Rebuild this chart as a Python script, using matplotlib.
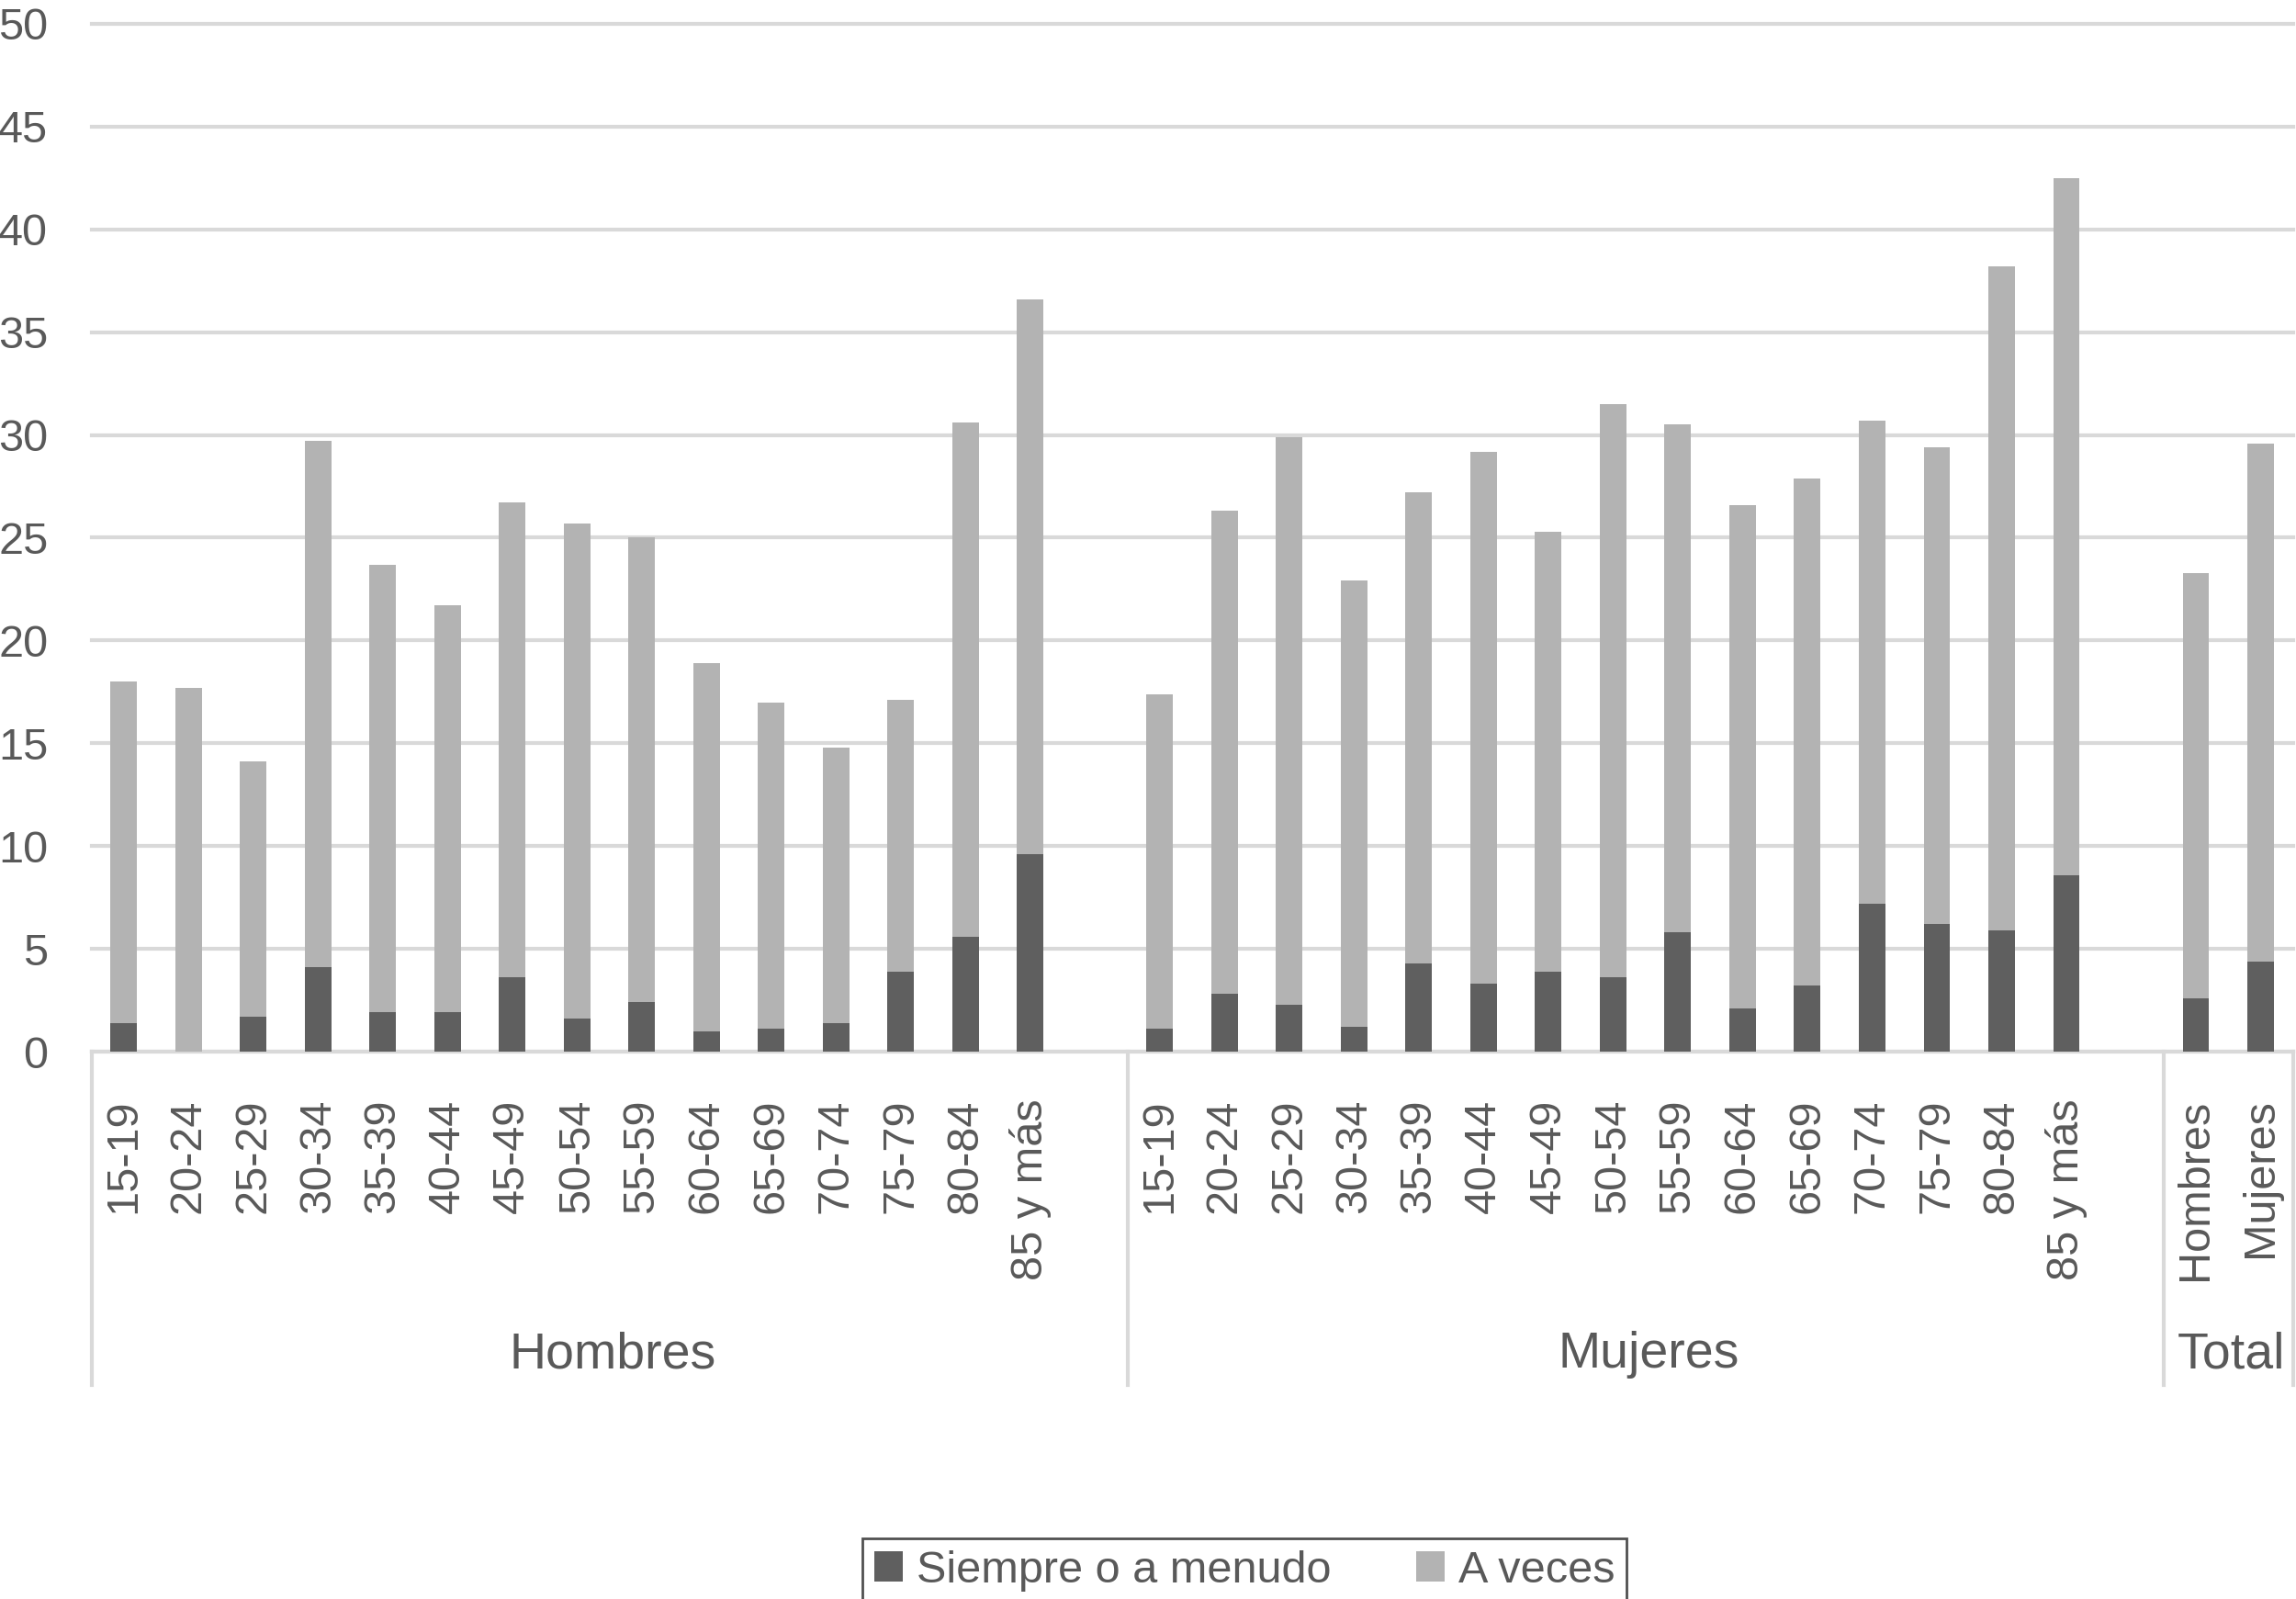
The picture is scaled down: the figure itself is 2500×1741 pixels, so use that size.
import matplotlib
matplotlib.use("Agg")
import matplotlib.pyplot as plt
import numpy as np
from matplotlib import transforms
from matplotlib.lines import Line2D

plt.rcParams["font.family"] = ["Liberation Sans", "DejaVu Sans"]

TEXT = "#595959"
DARK = "#5f5f5f"
LIGHT = "#b3b3b3"
GRID = "#d9d9d9"

edades = ["15-19", "20-24", "25-29", "30-34", "35-39", "40-44", "45-49", "50-54",
          "55-59", "60-64", "65-69", "70-74", "75-79", "80-84", "85 y más"]
totales_labels = ["Hombres", "Mujeres"]
grupos = ["Hombres", "Mujeres", "Total"]

siempre_hombres = [1.4, 0.0, 1.7, 4.1, 1.9, 1.9, 3.6, 1.6, 2.4, 1.0, 1.1, 1.4, 3.9, 5.6, 9.6]
aveces_hombres = [16.6, 17.7, 12.4, 25.6, 21.8, 19.8, 23.1, 24.1, 22.6, 17.9, 15.9, 13.4, 13.2, 25.0, 27.0]

siempre_mujeres = [1.1, 2.8, 2.3, 1.2, 4.3, 3.3, 3.9, 3.6, 5.8, 2.1, 3.2, 7.2, 6.2, 5.9, 8.6]
aveces_mujeres = [16.3, 23.5, 27.6, 21.7, 22.9, 25.9, 21.4, 27.9, 24.7, 24.5, 24.7, 23.5, 23.2, 32.3, 33.9]

siempre_total = [2.6, 4.4]
aveces_total = [20.7, 25.2]

# slot layout: 15 ages + blank, 15 ages + blank, 2 totals
x_h = np.arange(len(edades))
x_m = np.arange(len(edades)) + len(edades) + 1
x_t = np.arange(len(totales_labels)) + 2 * (len(edades) + 1)
x = np.concatenate([x_h, x_m, x_t])
labels = edades + edades + totales_labels
siempre = siempre_hombres + siempre_mujeres + siempre_total
aveces = aveces_hombres + aveces_mujeres + aveces_total

fig = plt.figure(figsize=(25, 17.41), dpi=100)
ax = fig.add_axes([0.0398, 0.34233, 0.9589, 0.64274])

b1 = ax.bar(x, siempre, width=0.41, color=DARK, label="Siempre o a menudo", zorder=3)
b2 = ax.bar(x, aveces, width=0.41, bottom=siempre, color=LIGHT, label="A veces", zorder=3)

ax.set_xlim(-0.5, x[-1] + 0.5)
ax.set_ylim(0, 50)
ax.set_yticks(np.arange(0, 51, 5))
ax.tick_params(axis="y", length=0, pad=34, labelsize=35, labelcolor=TEXT)
ax.set_xticks(x, labels, rotation=90)
ax.tick_params(axis="x", length=0, pad=37, labelsize=35, labelcolor=TEXT)

ax.yaxis.grid(True, color=GRID, linewidth=3)
for gl in ax.get_ygridlines():
    gl.set_clip_on(False)
ax.set_axisbelow(True)
for side in ["left", "right", "top"]:
    ax.spines[side].set_visible(False)
ax.spines["bottom"].set_color(GRID)
ax.spines["bottom"].set_linewidth(3)

# group dividers and group names under the category axis
trans = transforms.blended_transform_factory(ax.transData, fig.transFigure)
bounds = [-0.5, x_h[-1] + 1.5, x_m[-1] + 1.5, x_t[-1] + 0.5]
for bx in bounds:
    fig.add_artist(Line2D([bx, bx], [0.34233, 0.1338], transform=trans,
                          color=GRID, linewidth=3))
for name, lo, hi in zip(grupos, bounds[:-1], bounds[1:]):
    ax.text((lo + hi) / 2 + 0.05, 0.1447, name, transform=trans, ha="center", va="baseline",
            fontsize=40, color=TEXT)

leg = fig.legend(handles=[b1, b2], loc="center", bbox_to_anchor=(0.542, 0.0178), ncol=2,
                 fontsize=35, frameon=True, fancybox=False, edgecolor="#505050",
                 framealpha=1, handlelength=0.65, handleheight=0.65, handletextpad=0.3,
                 columnspacing=1.9, borderpad=0.25, borderaxespad=0)
leg.get_frame().set_linewidth(2)
for t in leg.get_texts():
    t.set_color(TEXT)

fig.savefig("out.png", dpi=100)
